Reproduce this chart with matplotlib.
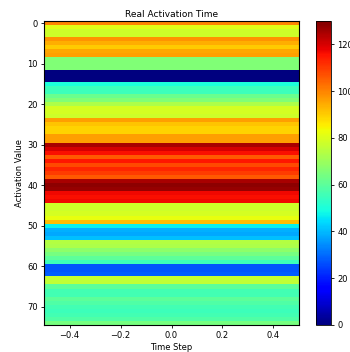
import numpy as np
import matplotlib
matplotlib.use("Agg")
import matplotlib.pyplot as plt

# activation value per row (range 0..130)
activation = [
    100, 81, 78, 78, 98, 94, 90, 95, 96, 66,
    66, 66, 0, 0, 0, 50, 55, 55, 62, 66,
    73, 79, 79, 78, 96, 91, 89, 89, 96, 96,
    125, 120, 116, 106, 115, 108, 113, 110, 106, 125,
    128, 127, 117, 116, 117, 78, 78, 79, 82, 92,
    47, 39, 38, 41, 74, 73, 68, 64, 60, 55,
    27, 27, 28, 77, 76, 60, 56, 56, 60, 58,
    56, 55, 56, 58, 64,
]
VMIN, VMAX = 0, 130

data = np.array(activation, dtype=float).reshape(-1, 1)

plt.rcParams["font.size"] = 6

fig = plt.figure(figsize=(3.5, 3.52), dpi=100)
ax = fig.add_axes([0.126, 0.077, 0.728, 0.863])
cax = fig.add_axes([0.903, 0.077, 0.043, 0.863])

im = ax.imshow(data, aspect="auto", cmap="jet", vmin=VMIN, vmax=VMAX,
               interpolation="nearest", extent=(-0.5, 0.5, len(data) - 0.5, -0.5))

ax.set_title("Real Activation Time", fontsize=6.5, pad=3)
ax.set_xlabel("Time Step", fontsize=6, labelpad=2)
ax.set_ylabel("Activation Value", fontsize=6, labelpad=2)
ax.set_xticks([-0.4, -0.2, 0.0, 0.2, 0.4])
ax.set_yticks(range(0, 71, 10))
ax.tick_params(labelsize=6, length=2.5, width=0.6, pad=2)

cb = fig.colorbar(im, cax=cax)
cb.set_ticks(range(0, 121, 20))
cb.ax.tick_params(labelsize=6, length=2.5, width=0.6, pad=2)
cb.outline.set_linewidth(0.6)
for s in ax.spines.values():
    s.set_linewidth(0.8)

fig.savefig("out.png", dpi=100)
